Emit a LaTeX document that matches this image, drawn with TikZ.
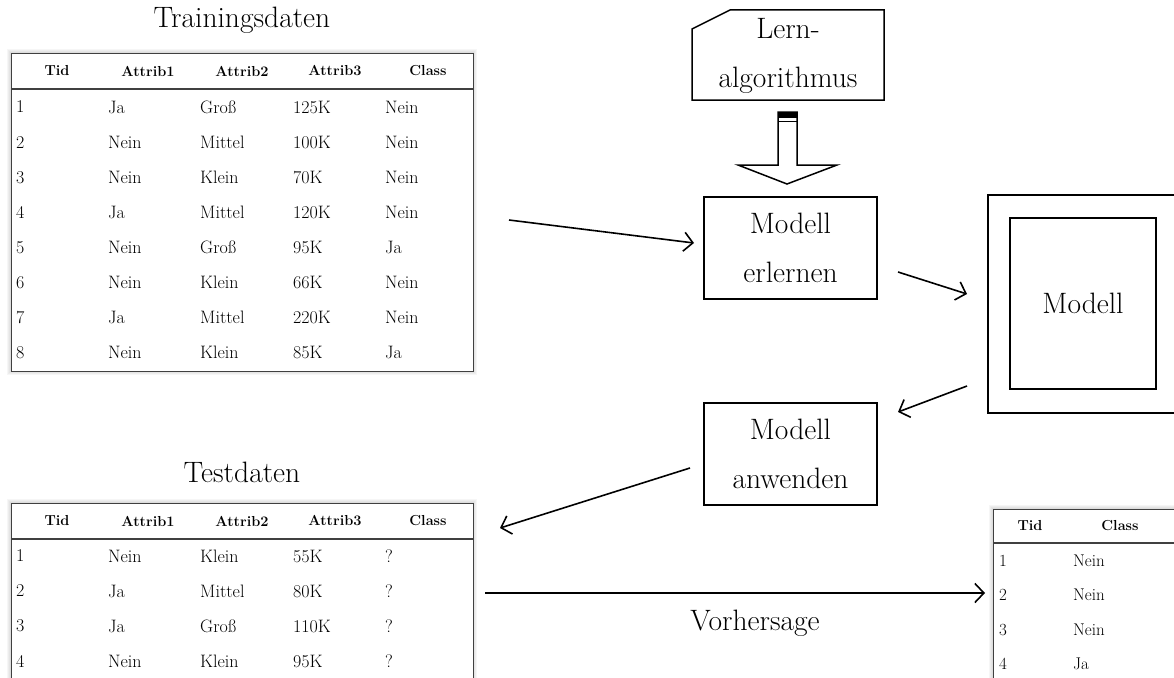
\documentclass[tikz,border=0pt]{standalone}
\usepackage{fontspec}
\usetikzlibrary{arrows.meta,calc}
\begin{document}
\begin{tikzpicture}[x=1pt,y=-1pt,
  tblframe/.style={draw=black!75, line width=1.3pt},
  cell/.style={font=\fontsize{18}{20}\selectfont, anchor=west, inner sep=0pt},
  hdr/.style={font=\bfseries\fontsize{14.5}{16}\selectfont, anchor=center, inner sep=0pt},
  big/.style={font=\fontsize{29.5}{49}\selectfont, inner sep=0pt},
  box/.style={draw, line width=1.5pt, align=center, font=\fontsize{29.5}{49}\selectfont},
  arr/.style={-{Straight Barb[length=9pt,width=19pt,line width=1.6pt]}, line width=1.6pt},
  shade/.style={draw=black, opacity=0.035}
]
\useasboundingbox (0,0) rectangle (1174,677);

% ---------- Training table ----------
\foreach \w in {2,4,6,8}{\draw[shade, line width=\w pt] (11,53) rectangle (473,371);}
\node[tblframe, fill=white, minimum width=462pt, minimum height=318pt, anchor=north west, inner sep=0pt] (train) at (11,53) {};
\draw[tblframe] (11,89) -- (473,89);
\node[big] (traintitle) at (242,20) {Trainingsdaten};
\node[hdr] (th1) at (57,71) {Tid};
\node[hdr] (th2) at (148,71) {Attrib1};
\node[hdr] (th3) at (242,71) {Attrib2};
\node[hdr] (th4) at (335,71) {Attrib3};
\node[hdr] (th5) at (428,71) {Class};
\foreach \i/\a/\b/\c/\d in {1/Ja/Groß/125K/Nein, 2/Nein/Mittel/100K/Nein, 3/Nein/Klein/70K/Nein, 4/Ja/Mittel/120K/Nein, 5/Nein/Groß/95K/Ja, 6/Nein/Klein/66K/Nein, 7/Ja/Mittel/220K/Nein, 8/Nein/Klein/85K/Ja}{
  \pgfmathsetmacro{\yy}{107+35.1*(\i-1)}
  \node[cell] (tr\i a) at (16,\yy) {\i};
  \node[cell] (tr\i b) at (108,\yy) {\a};
  \node[cell] (tr\i c) at (200,\yy) {\b};
  \node[cell] (tr\i d) at (293,\yy) {\c};
  \node[cell] (tr\i e) at (385,\yy) {\d};
}

% ---------- Test table ----------
\foreach \w in {2,4,6,8}{\draw[shade, line width=\w pt] (11,503) rectangle (473,700);}
\node[tblframe, fill=white, minimum width=462pt, minimum height=197pt, anchor=north west, inner sep=0pt] (test) at (11,503) {};
\draw[tblframe] (11,539) -- (473,539);
\node[big] (testtitle) at (242,472) {Testdaten};
\node[hdr] (sh1) at (57,521) {Tid};
\node[hdr] (sh2) at (148,521) {Attrib1};
\node[hdr] (sh3) at (242,521) {Attrib2};
\node[hdr] (sh4) at (335,521) {Attrib3};
\node[hdr] (sh5) at (428,521) {Class};
\foreach \i/\a/\b/\c in {1/Nein/Klein/55K, 2/Ja/Mittel/80K, 3/Ja/Groß/110K, 4/Nein/Klein/95K}{
  \pgfmathsetmacro{\yy}{556+35*(\i-1)}
  \node[cell] (te\i a) at (16,\yy) {\i};
  \node[cell] (te\i b) at (108,\yy) {\a};
  \node[cell] (te\i c) at (200,\yy) {\b};
  \node[cell] (te\i d) at (293,\yy) {\c};
  \node[cell] (te\i e) at (385,\yy) {?};
}

% ---------- Result table ----------
\foreach \w in {2,4,6,8}{\draw[shade, line width=\w pt] (993,509) rectangle (1200,700);}
\node[tblframe, fill=white, minimum width=207pt, minimum height=191pt, anchor=north west, inner sep=0pt] (res) at (993,509) {};
\draw[tblframe] (993,543) -- (1200,543);
\node[hdr] (rh1) at (1030,526) {Tid};
\node[hdr] (rh2) at (1120,526) {Class};
\foreach \i/\c/\yy in {1/Nein/561, 2/Nein/595, 3/Nein/630, 4/Ja/664}{
  \node[cell, font=\fontsize{17}{19}\selectfont] (re\i a) at (999,\yy) {\i};
  \node[cell, font=\fontsize{17}{19}\selectfont] (re\i b) at (1073,\yy) {\c};
}

% ---------- Lernalgorithmus card ----------
\draw[line width=1.5pt] (692,100) -- (692,29) -- (730,10) -- (884,10) -- (884,100) -- cycle;
\node[big, align=center] (algo) at (788,56) {Lern-\\algorithmus};

% block arrow
\draw[line width=1.5pt, fill=white] (778,112) -- (778,165) -- (738,165) -- (787,184) -- (837,165) -- (797,165) -- (797,112) -- cycle;
\fill (778,112) rectangle (797,118);
\draw[line width=1.6pt] (778,121.5) -- (797,121.5);

% ---------- Model boxes ----------
\node[box, minimum width=173pt, minimum height=102pt] (learn) at (790.5,248) {Modell\\erlernen};
\node[box, minimum width=173pt, minimum height=102pt] (apply) at (790.5,454) {Modell\\anwenden};
\node[draw, line width=1.5pt, minimum width=210pt, minimum height=218pt, anchor=north west] (outer) at (987,194) {};
\node[box, minimum width=146pt, minimum height=171pt] (model) at (1083,303.5) {Modell};

% ---------- Arrows ----------
\coordinate (a1s) at (509,220);
\coordinate (a1e) at (694,243);
\coordinate (a2s) at (898,272);
\coordinate (a2e) at (967,294);
\coordinate (a3s) at (967,386);
\coordinate (a3e) at (898,412);
\coordinate (a4s) at (690,468);
\coordinate (a4e) at (500,528);
\coordinate (a5s) at (485,593);
\coordinate (a5e) at (985,593);
\draw[arr] (a1s) -- (a1e);
\draw[arr] (a2s) -- (a2e);
\draw[arr] (a3s) -- (a3e);
\draw[arr] (a4s) -- (a4e);
\draw[arr] (a5s) -- (a5e);
\node[big] (pred) at (755,623) {Vorhersage};
\end{tikzpicture}
\end{document}
